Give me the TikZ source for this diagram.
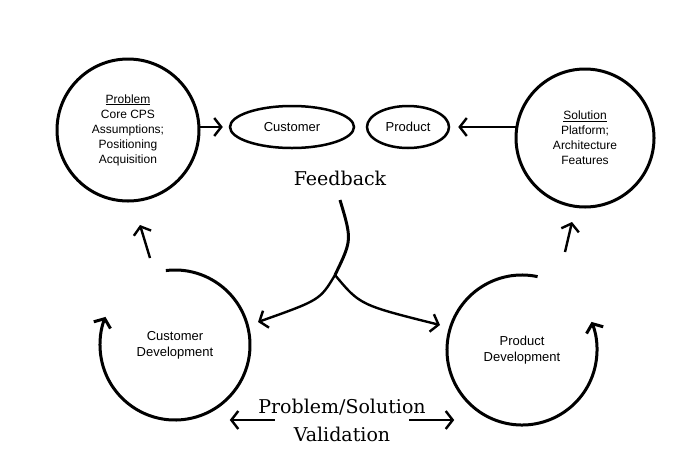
\documentclass[tikz,border=0pt]{standalone}
\usepackage{fontspec}
\setmainfont{Liberation Sans}
\newfontfamily\slabfont{DejaVu Serif}
\usetikzlibrary{arrows.meta,positioning,calc,shapes.geometric}
\tikzset{
  loopcircle/.style={circle, draw, line width=3pt, minimum size=142pt, align=center, font=\fontsize{12}{15}\selectfont, inner sep=0pt},
  bubble/.style={ellipse, draw, line width=2.5pt, font=\fontsize{13}{15}\selectfont},
  arr/.style={line width=2.4pt, -{Straight Barb[length=7pt,width=18pt]}},
  bigtext/.style={font=\slabfont\fontsize{19}{28}\selectfont, align=center}
}
\begin{document}
\begin{tikzpicture}[x=1pt,y=-1pt]
  \useasboundingbox (0,0) rectangle (700,461);
  % top row
  \node[loopcircle] (prob) at (128,130) {\underline{Problem}\\Core CPS\\Assumptions;\\Positioning\\Acquisition};
  \node[bubble, minimum width=124pt, minimum height=42pt] (cust) at (292,127) {Customer};
  \node[bubble, minimum width=82pt, minimum height=42pt] (prod) at (408,127) {Product};
  \node[loopcircle, minimum size=138pt] (sol) at (585,138) {\underline{Solution}\\Platform;\\Architecture\\Features};
  \node[bigtext] (fb) at (340,178) {Feedback};
  \draw[arr] ([xshift=-3pt]prob.east |- cust) -- ([xshift=-6pt]cust.west);
  \draw[arr] ([xshift=3pt]sol.west |- prod) -- ([xshift=8pt]prod.east);
  % bottom row
  \node[circle, minimum size=150pt, align=center, font=\fontsize{13}{16}\selectfont] (cdev) at (175,345) {Customer\\Development};
  \node[circle, minimum size=150pt, align=center, font=\fontsize{13}{16}\selectfont] (pdev) at (522,350) {Product\\Development};
  \draw[arr, line width=3pt] (cdev.center) ++(-97:75) arc (-97:202:75);
  \draw[arr, line width=3pt] (pdev.center) ++(-78:75) arc (-78:-382:75);
  % up arrows
  \draw[arr] (150,258) -- (140,225);
  \draw[arr] (565,252) -- (572,222);
  % fork
  \coordinate (fork) at (335,275);
  \draw[line width=3pt] ([yshift=-22pt]fb.center) .. controls (352,240) .. (fork);
  \draw[arr] (fork) .. controls (320,300) .. (258,322);
  \draw[arr] (fork) .. controls (360,305) .. (440,325);
  % validation
  \node[bigtext] (val) at (342,420) {Problem/Solution\\Validation};
  \draw[arr] ([xshift=20pt]val.west) -- ++(-45,0);
  \draw[arr] ([xshift=-20pt]val.east) -- ++(45,0);
\end{tikzpicture}
\end{document}
